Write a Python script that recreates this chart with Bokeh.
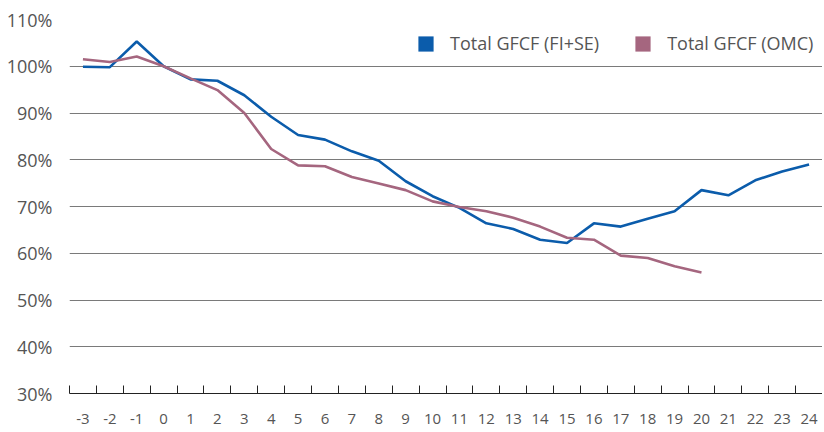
from bokeh.plotting import figure
from bokeh.models import FixedTicker, Legend, LegendItem, Range1d, ColumnDataSource, CustomJSTickFormatter
from bokeh.embed import file_html
from bokeh.resources import INLINE

periods = list(range(-3, 25))
fise = [99.9, 99.8, 105.3, 100.0, 97.2, 96.9, 93.8, 89.2, 85.3, 84.3, 81.8, 79.8,
        75.4, 72.2, 69.7, 66.4, 65.2, 62.9, 62.2, 66.4, 65.7, 67.4, 69.0, 73.5,
        72.4, 75.6, 77.5, 79.0]
omc_periods = list(range(-3, 21))
omc = [101.5, 100.9, 102.1, 100.0, 97.4, 94.9, 90.0, 82.3, 78.8, 78.6, 76.3, 74.9,
       73.5, 71.1, 69.9, 69.0, 67.6, 65.7, 63.3, 62.9, 59.5, 59.0, 57.2, 55.9]
y_ticks = [30, 40, 50, 60, 70, 80, 90, 100, 110]
series_names = ["Total GFCF (FI+SE)", "Total GFCF (OMC)"]

BLUE = "#0B5CAB"
PINK = "#A5667F"
FONT = "Open Sans"
TXT = "#555555"

p = figure(width=822, height=426, output_backend="svg", toolbar_location=None,
           x_range=Range1d(periods[0] - 0.5, periods[-1] + 0.5),
           y_range=Range1d(y_ticks[0], y_ticks[-1]),
           min_border_left=69, min_border_right=0, min_border_top=19, min_border_bottom=30)
p.outline_line_color = None
p.background_fill_color = "white"
p.border_fill_color = "white"

p.xgrid.grid_line_color = None
p.ygrid.ticker = FixedTicker(ticks=y_ticks)
p.ygrid.grid_line_color = "#7a7a7a"
p.ygrid.grid_line_width = 1

xa = p.xaxis[0]
xa.ticker = FixedTicker(ticks=periods, minor_ticks=[v - 0.5 for v in periods] + [periods[-1] + 0.5])
xa.formatter = CustomJSTickFormatter(code="return tick.toFixed(0);")
xa.major_tick_line_color = None
xa.minor_tick_line_color = "#222222"
xa.minor_tick_in = 8
xa.minor_tick_out = 0
xa.axis_line_color = "#222222"
xa.axis_line_width = 1
xa.major_label_standoff = 14
xa.major_label_text_font = FONT
xa.major_label_text_font_size = "15px"
xa.major_label_text_color = TXT

ya = p.yaxis[0]
ya.ticker = FixedTicker(ticks=y_ticks)
ya.formatter = CustomJSTickFormatter(code="return tick.toFixed(0) + '%';")
ya.axis_line_color = None
ya.major_tick_line_color = None
ya.minor_tick_line_color = None
ya.major_label_standoff = 11
ya.major_label_text_font = FONT
ya.major_label_text_font_size = "18px"
ya.major_label_text_color = TXT

p.line(periods, fise, line_color=BLUE, line_width=2.6)
p.line(omc_periods, omc, line_color=PINK, line_width=2.6)

nan = float("nan")
dummy = ColumnDataSource(dict(left=[nan], right=[nan], top=[nan], bottom=[nan]))
r1 = p.quad(left="left", right="right", top="top", bottom="bottom", source=dummy,
            fill_color=BLUE, line_color=None)
r2 = p.quad(left="left", right="right", top="top", bottom="bottom", source=dummy,
            fill_color=PINK, line_color=None)

legend = Legend(items=[LegendItem(label=series_names[0], renderers=[r1]),
                       LegendItem(label=series_names[1], renderers=[r2])],
                orientation="horizontal", location=(347, 338),
                glyph_width=19, glyph_height=19, label_standoff=15, spacing=34,
                padding=0, margin=0, border_line_color=None, background_fill_alpha=0,
                label_text_font=FONT, label_text_font_size="18px", label_text_color=TXT)
p.add_layout(legend, "center")

open("out.html", "w").write(file_html(p, INLINE))
